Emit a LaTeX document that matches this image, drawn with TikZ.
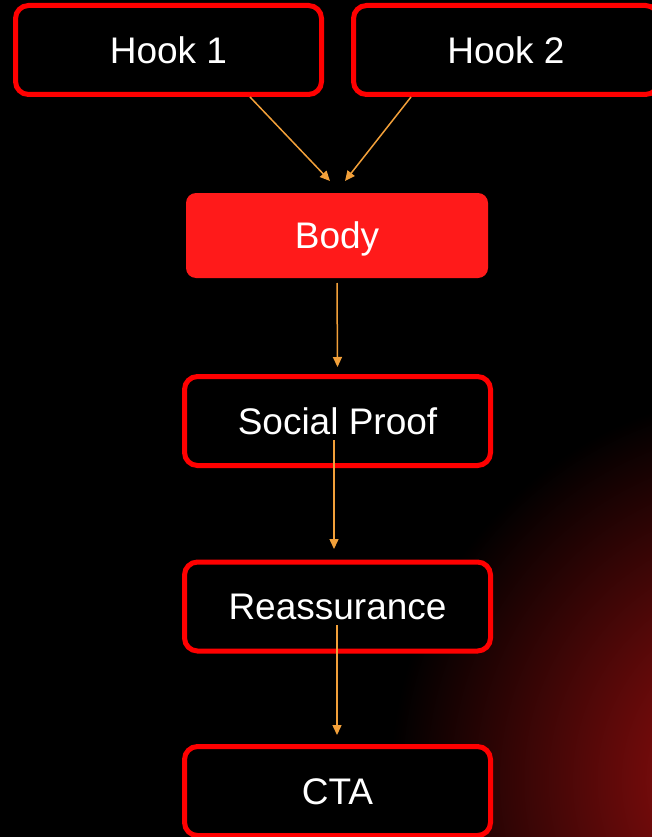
\documentclass[tikz,border=0pt]{standalone}
\usepackage{fontspec}
\setmainfont{Liberation Sans}
\usetikzlibrary{arrows.meta,calc}
\definecolor{boxred}{HTML}{FF0000}
\definecolor{bodyred}{HTML}{FF1A1A}
\definecolor{flow}{HTML}{F2A03A}
\definecolor{glowred}{HTML}{A81010}
\pgfdeclareradialshading{glow}{\pgfpoint{0bp}{0bp}}{color(0bp)=(glowred); color(25bp)=(black); color(50bp)=(black)}

\begin{document}
\begin{tikzpicture}[x=1pt, y=-1pt,
    stepbox/.style={draw=boxred, line width=5pt, fill=black, rounded corners=13pt,
                    minimum width=306pt, minimum height=89pt, inner sep=0pt,
                    text=white, font=\fontsize{37}{44}\selectfont,
                    text height=26.5pt, text depth=0pt},
    bodybox/.style={stepbox, draw=none, fill=bodyred, rounded corners=10pt,
                    minimum width=302pt, minimum height=85pt},
    flowarrow/.style={draw=flow, line width=1.5pt, -{Triangle[length=10pt, width=9pt]}},
]
\useasboundingbox (0,0) rectangle (652,837);

% Background with red glow
\begin{scope}
    \clip (0,0) rectangle (652,837);
    \fill[black] (0,0) rectangle (652,837);
    \shade[shading=glow] (780,780) circle (390);
\end{scope}

% === Hooks ===
\node[stepbox] (hook1) at (168.5,50) {Hook 1};
\node[stepbox, minimum width=305pt] (hook2) at (506,50) {Hook 2};

% === Body ===
\node[bodybox] (body) at (337,235.5) {Body};

% === Closing steps ===
\foreach \y/\name/\txt in {421/proof/Social Proof,
                           606.5/reass/Reassurance,
                           791/cta/CTA} {
    \node[stepbox] (\name) at (337.5,\y) {\txt};
}

% Arrow ends
\coordinate (hook1out) at ($(hook1.south)+(81.5,0)$);
\coordinate (hook2out) at ($(hook2.south)+(-95,0)$);
\coordinate (bodyin1) at ($(body.north)+(-7,-9.5)$);
\coordinate (bodyin2) at ($(body.north)+(8,-9.5)$);
\coordinate (bodyout) at ($(body.south)+(0,2.5)$);
\coordinate (proofin) at ($(proof.north)+(0,-7)$);
\coordinate (proofout) at ($(proof.center)+(-3.5,19)$);
\coordinate (reassin) at ($(reass.north)+(-3.5,-10.5)$);
\coordinate (reassout) at ($(reass.center)+(-0.5,18.5)$);
\coordinate (ctain) at ($(cta.north)+(-0.5,-9)$);

% Flow
\draw[flowarrow] (hook1out) -- (bodyin1);
\draw[flowarrow] (hook2out) -- (bodyin2);
\draw[flowarrow] (bodyout) -- (proofin);
\draw[flowarrow] (proofout) -- (reassin);
\draw[flowarrow] (reassout) -- (ctain);

\end{tikzpicture}
\end{document}
